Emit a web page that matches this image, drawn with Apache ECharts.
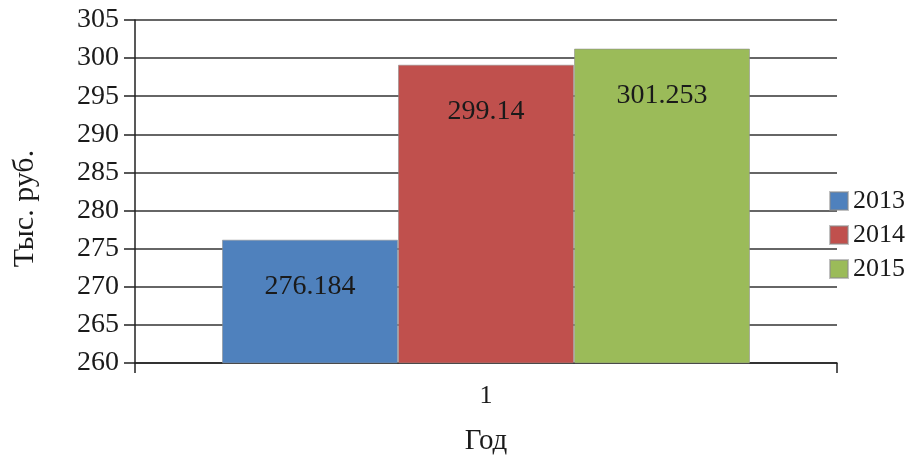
<!DOCTYPE html>
<html>
<head>
<meta charset="utf-8">
<style>
  html, body { margin: 0; padding: 0; background: #fff; }
  #chart { width: 915px; height: 456px; }
</style>
<script src="https://cdn.jsdelivr.net/npm/echarts@6/dist/echarts.min.js"></script>
</head>
<body>
<div id="chart"></div>
<script>
// Categories and series values
const categories = ['1'];
const years = ['2013', '2014', '2015'];
const values2013 = [276.184];
const values2014 = [299.14];
const values2015 = [301.253];
const yTicks = { min: 260, max: 305, step: 5 };

const seriesValues = [values2013, values2014, values2015];
const colors = ['#4F81BD', '#C0504D', '#9BBB59'];
const serif = '"Liberation Serif", "Times New Roman", serif';

const chart = echarts.init(document.getElementById('chart'), null, { renderer: 'canvas' });

const series = years.map((y, i) => ({
  name: y,
  type: 'bar',
  data: seriesValues[i],
  barWidth: 176,
  barGap: '0%',
  itemStyle: { color: colors[i], borderColor: 'rgba(140,140,140,0.55)', borderWidth: 1 },
  label: {
    show: true,
    position: 'insideTop',
    distance: 33,
    color: '#1a1a1a',
    fontFamily: serif,
    fontSize: 28,
    formatter: p => String(p.value)
  }
}));

chart.setOption({
  animation: false,
  color: colors,
  textStyle: { fontFamily: serif },
  grid: { left: 135, right: 78, top: 20, bottom: 93, containLabel: false, outerBoundsMode: 'none' },
  legend: {
    data: years,
    orient: 'vertical',
    right: 5,
    top: 183,
    itemWidth: 18,
    itemHeight: 18,
    itemGap: 8,
    icon: 'rect',
    textStyle: { fontFamily: serif, fontSize: 26, color: '#1a1a1a' }
  },
  xAxis: {
    type: 'category',
    data: categories,
    name: 'Год',
    nameLocation: 'middle',
    nameGap: 64,
    nameTextStyle: { fontFamily: serif, fontSize: 29, color: '#1a1a1a' },
    axisLine: { lineStyle: { color: '#222', width: 1.5 } },
    axisTick: { show: true, length: 10, alignWithLabel: false, lineStyle: { color: '#222', width: 1.5 } },
    axisLabel: { fontFamily: serif, fontSize: 26, color: '#1a1a1a', margin: 20 }
  },
  yAxis: {
    type: 'value',
    min: yTicks.min,
    max: yTicks.max,
    interval: yTicks.step,
    name: 'Тыс. руб.',
    nameLocation: 'middle',
    nameGap: 95,
    nameTextStyle: { fontFamily: serif, fontSize: 30, color: '#1a1a1a', padding: [0, 34, 0, 0] },
    axisLine: { show: true, lineStyle: { color: '#222', width: 1.5 } },
    axisTick: { show: true, length: 11, lineStyle: { color: '#222', width: 1.5 } },
    axisLabel: { fontFamily: serif, fontSize: 28, color: '#1a1a1a', margin: 16 },
    splitLine: { show: true, lineStyle: { color: '#333', width: 1.5 } }
  },
  series: series
});
</script>
</body>
</html>
